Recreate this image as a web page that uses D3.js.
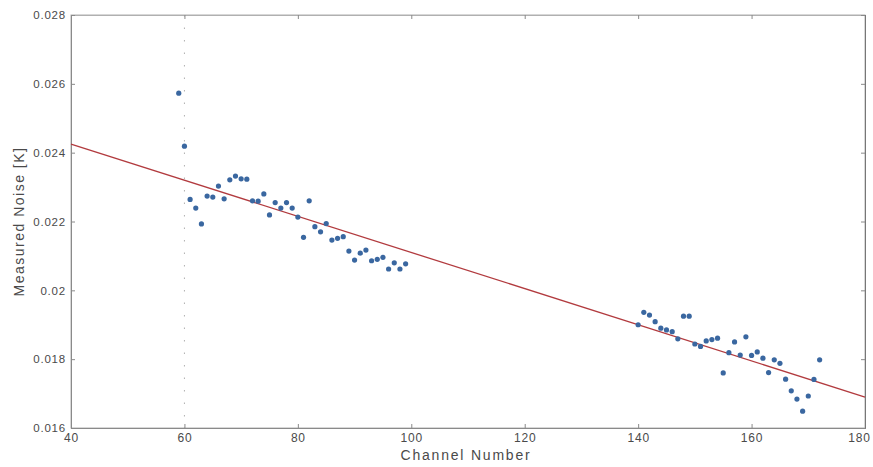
<!DOCTYPE html>
<html>
<head>
<meta charset="utf-8">
<script src="https://cdn.jsdelivr.net/npm/d3@7"></script>
<style>
  html, body { margin: 0; padding: 0; background: #fff; }
  svg { display: block; }
  text { font-family: "Liberation Sans", Arial, sans-serif; }
</style>
</head>
<body>
<svg id="chart" width="873" height="467"></svg>
<script>
// Measured noise per channel, two bands of channels
const channelsLow = [59, 60, 61, 62, 63, 64, 65, 66, 67, 68, 69, 70, 71, 72, 73, 74, 75, 76, 77, 78, 79,
  80, 81, 82, 83, 84, 85, 86, 87, 88, 89, 90, 91, 92, 93, 94, 95, 96, 97, 98, 99];
const noiseLow = [0.02573, 0.02419, 0.02264, 0.02239, 0.02193, 0.02274, 0.02271, 0.02303, 0.02266, 0.02321,
  0.02332, 0.02324, 0.02323, 0.02260, 0.02259, 0.02280, 0.02219, 0.02255, 0.02239, 0.02255, 0.02239,
  0.02213, 0.02154, 0.02260, 0.02185, 0.02170, 0.02194, 0.02146, 0.02151, 0.02156, 0.02114, 0.02088,
  0.02108, 0.02117, 0.02086, 0.02090, 0.02096, 0.02062, 0.02080, 0.02062, 0.02077];
const channelsHigh = [140, 141, 142, 143, 144, 145, 146, 147, 148, 149, 150, 151, 152, 153, 154, 155, 156,
  157, 158, 159, 160, 161, 162, 163, 164, 165, 166, 167, 168, 169, 170, 171, 172];
const noiseHigh = [0.01900, 0.01936, 0.01928, 0.01909, 0.01890, 0.01885, 0.01880, 0.01859, 0.01925, 0.01925,
  0.01844, 0.01837, 0.01853, 0.01857, 0.01861, 0.01760, 0.01819, 0.01850, 0.01812, 0.01865, 0.01811,
  0.01821, 0.01803, 0.01761, 0.01798, 0.01788, 0.01742, 0.01708, 0.01684, 0.01649, 0.01693, 0.01741,
  0.01798];

// Linear fit endpoints
const fitX = [40, 180];
const fitY = [0.02425, 0.01690];

const xTicks = [40, 60, 80, 100, 120, 140, 160, 180];
const yTicks = [0.016, 0.018, 0.02, 0.022, 0.024, 0.026, 0.028];
const yTickLabels = ["0.016", "0.018", "0.02", "0.022", "0.024", "0.026", "0.028"];

const margin = { left: 71, right: 8, top: 15, bottom: 39 };
const W = 873, H = 467;
const svg = d3.select("#chart");

const x = d3.scaleLinear().domain([40, 180]).range([margin.left, W - margin.right]);
const y = d3.scaleLinear().domain([0.016, 0.028]).range([H - margin.bottom, margin.top]);

const axisColor = "#8a8a8a";
const textColor = "#4a4a4a";

// Faint dotted marker line at channel 60
svg.append("line")
  .attr("x1", x(60)).attr("x2", x(60))
  .attr("y1", y(0.028)).attr("y2", y(0.016))
  .attr("stroke", "#b0b0b0").attr("stroke-width", 1)
  .attr("stroke-dasharray", "1.5,11");

// Box
svg.append("rect")
  .attr("x", x(40)).attr("y", y(0.028))
  .attr("width", x(180) - x(40)).attr("height", y(0.016) - y(0.028))
  .attr("fill", "none").attr("stroke", "#b0b0b0").attr("stroke-width", 1);

// Bottom axis, ticks inward
const xAxis = svg.append("g")
  .attr("transform", `translate(0,${y(0.016)})`)
  .call(d3.axisBottom(x).tickValues(xTicks).tickSize(-4).tickPadding(5).tickFormat(d3.format("d")));
xAxis.select(".domain").attr("stroke", axisColor);
xAxis.selectAll(".tick line").attr("stroke", axisColor);
xAxis.selectAll("text").attr("fill", textColor).attr("font-size", 12).attr("letter-spacing", 0.8);
xAxis.selectAll(".tick").filter(d => d === 180).select("text").attr("dx", -6);

// Top ticks
const xTop = svg.append("g")
  .attr("transform", `translate(0,${y(0.028)})`)
  .call(d3.axisTop(x).tickValues(xTicks).tickSize(-4).tickFormat(""));
xTop.select(".domain").attr("stroke", "#b0b0b0");
xTop.selectAll(".tick line").attr("stroke", axisColor);

// Left axis, ticks inward
const yAxis = svg.append("g")
  .attr("transform", `translate(${x(40)},0)`)
  .call(d3.axisLeft(y).tickValues(yTicks).tickSize(-4).tickPadding(5)
    .tickFormat((d, i) => yTickLabels[i]));
yAxis.select(".domain").attr("stroke", axisColor);
yAxis.selectAll(".tick line").attr("stroke", axisColor);
yAxis.selectAll("text").attr("fill", textColor).attr("font-size", 11.5).attr("letter-spacing", 0.8);

// Right ticks
const yRight = svg.append("g")
  .attr("transform", `translate(${x(180)},0)`)
  .call(d3.axisRight(y).tickValues(yTicks).tickSize(-4).tickFormat(""));
yRight.select(".domain").attr("stroke", "#777");
yRight.selectAll(".tick line").attr("stroke", axisColor);

// Axis titles
svg.append("text")
  .attr("x", 466).attr("y", 460)
  .attr("text-anchor", "middle").attr("font-size", 14).attr("letter-spacing", 1.8)
  .attr("fill", textColor)
  .text("Channel Number");
svg.append("text")
  .attr("transform", `translate(24,${(y(0.016) + y(0.028)) / 2}) rotate(-90)`)
  .attr("text-anchor", "middle").attr("font-size", 14).attr("letter-spacing", 1.5)
  .attr("fill", textColor)
  .text("Measured Noise [K]");

// Fitted line
svg.append("line")
  .attr("x1", x(fitX[0])).attr("y1", y(fitY[0]))
  .attr("x2", x(fitX[1])).attr("y2", y(fitY[1]))
  .attr("stroke", "#b23b3f").attr("stroke-width", 1.3);

// Measured points
const points = channelsLow.map((c, i) => ({ c, v: noiseLow[i] }))
  .concat(channelsHigh.map((c, i) => ({ c, v: noiseHigh[i] })));
svg.append("g").selectAll("circle")
  .data(points)
  .join("circle")
  .attr("cx", d => x(d.c))
  .attr("cy", d => y(d.v))
  .attr("r", 2.6)
  .attr("fill", "#3a67a0");
</script>
</body>
</html>
